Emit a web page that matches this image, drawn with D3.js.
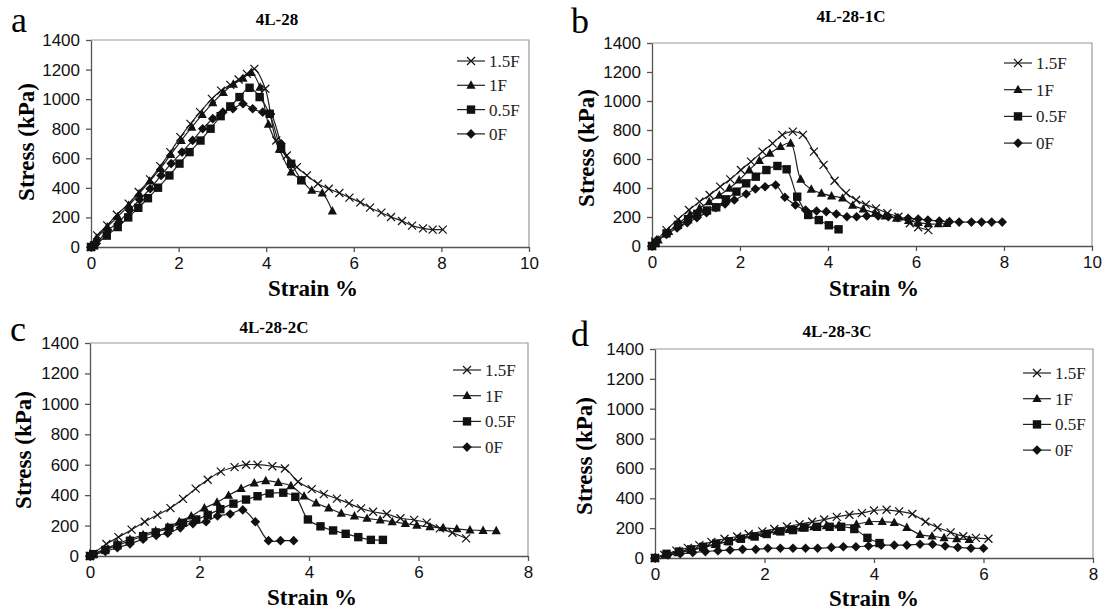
<!DOCTYPE html>
<html>
<head>
<meta charset="utf-8">
<script src="https://cdn.jsdelivr.net/npm/d3@7"></script>
<style>
  body { margin: 0; background: #fff; }
</style>
</head>
<body>
<div id="chart"></div>
<script>
// series names, in legend order
var seriesNames = ["1.5F", "1F", "0.5F", "0F"];
var markerTypes = ["x", "triangle", "square", "diamond"];

// axis ticks
var yTicks = [0, 200, 400, 600, 800, 1000, 1200, 1400];
var xTicks10 = [0, 2, 4, 6, 8, 10];
var xTicks8 = [0, 2, 4, 6, 8];

// panel titles
var titles = ["4L-28", "4L-28-1C", "4L-28-2C", "4L-28-3C"];
var letters = ["a", "b", "c", "d"];

// panel a : [strain %, stress kPa]
var a15F = [[0,0],[0.14,79],[0.37,146],[0.59,218],[0.86,293],[1.09,372],[1.35,457],[1.58,547],[1.81,642],[2.04,743],[2.27,833],[2.49,912],[2.76,1002],[2.97,1058],[3.18,1097],[3.37,1133],[3.56,1171],[3.73,1205],[3.98,1070],[4.23,720],[4.47,619],[4.70,540],[4.93,484],[5.18,428],[5.43,394],[5.67,365],[5.90,334],[6.15,302],[6.37,266],[6.63,232],[6.85,203],[7.10,176],[7.33,145],[7.58,126],[7.80,118],[8.03,118]];
var a1F = [[0,0],[0.13,60],[0.37,135],[0.61,205],[0.86,280],[1.10,360],[1.34,445],[1.58,530],[1.82,625],[2.06,720],[2.30,810],[2.54,895],[2.78,975],[3.02,1045],[3.25,1100],[3.47,1140],[3.66,1180],[3.86,1080],[4.05,830],[4.30,660],[4.57,507],[4.81,451],[5.04,383],[5.28,365],[5.51,243]];
var a05F = [[0,0],[0.07,11],[0.36,77],[0.61,135],[0.85,200],[1.08,265],[1.30,330],[1.53,401],[1.79,484],[2.02,564],[2.25,642],[2.50,720],[2.73,800],[2.96,885],[3.18,951],[3.39,1014],[3.62,1077],[3.85,1014],[4.08,901],[4.34,665],[4.57,563],[4.80,451]];
var a0F = [[0,0],[0.12,23],[0.38,113],[0.64,169],[0.88,248],[1.11,320],[1.35,394],[1.60,484],[1.83,564],[2.08,642],[2.32,721],[2.55,800],[2.78,868],[3.01,912],[3.24,935],[3.47,969],[3.69,935],[3.92,912],[4.10,900],[4.34,699],[4.57,560]];

// panel b
var b15F = [[0,0],[0.07,30],[0.33,110],[0.59,184],[0.84,248],[1.08,306],[1.31,352],[1.55,409],[1.78,460],[2.02,524],[2.25,582],[2.51,651],[2.74,708],[2.96,766],[3.20,789],[3.43,766],[3.68,651],[3.90,560],[4.15,450],[4.41,365],[4.64,317],[4.86,285],[5.09,260],[5.35,226],[5.60,202],[5.86,157],[6.05,129],[6.28,110]];
var b1F = [[0,0],[0.14,41],[0.38,100],[0.62,160],[0.86,215],[1.08,260],[1.30,305],[1.53,350],[1.76,398],[1.98,455],[2.21,524],[2.44,589],[2.68,639],[2.92,685],[3.15,708],[3.38,460],[3.62,391],[3.85,363],[4.08,345],[4.33,330],[4.56,280],[4.80,255],[5.07,226],[5.30,207],[5.56,191],[5.83,175],[6.05,161],[6.28,152],[6.51,152],[6.70,155]];
var b05F = [[0,0],[0.08,20],[0.33,87],[0.59,145],[0.82,185],[1.03,222],[1.25,245],[1.46,267],[1.68,322],[1.92,375],[2.14,432],[2.36,478],[2.60,524],[2.85,552],[3.06,529],[3.30,340],[3.55,214],[3.79,179],[4.02,143],[4.24,115]];
var b0F = [[0,0],[0.11,41],[0.33,80],[0.57,125],[0.80,160],[1.02,195],[1.24,230],[1.45,265],[1.66,290],[1.87,317],[2.14,359],[2.35,393],[2.57,409],[2.81,421],[3.02,336],[3.26,283],[3.49,248],[3.74,241],[3.96,237],[4.19,221],[4.43,202],[4.65,202],[4.88,207],[5.14,207],[5.37,202],[5.59,195],[5.82,191],[6.05,186],[6.27,179],[6.53,172],[6.76,168],[6.98,165],[7.26,165],[7.49,165],[7.72,165],[7.96,165]];

// panel c
var c15F = [[0,0],[0.06,16],[0.30,79],[0.52,124],[0.76,173],[1.00,225],[1.23,270],[1.47,315],[1.70,375],[1.93,443],[2.15,501],[2.39,555],[2.64,584],[2.85,600],[3.06,600],[3.33,590],[3.56,575],[3.80,488],[4.05,440],[4.27,407],[4.51,377],[4.73,346],[4.95,313],[5.17,291],[5.42,276],[5.67,248],[5.92,237],[6.15,219],[6.39,182],[6.62,153],[6.87,116]];
var c1F = [[0,0],[0.06,10],[0.27,45],[0.50,80],[0.73,110],[0.97,140],[1.20,165],[1.42,190],[1.63,225],[1.85,263],[2.09,315],[2.32,353],[2.53,398],[2.76,443],[3.00,479],[3.21,494],[3.44,483],[3.67,461],[3.91,393],[4.13,348],[4.36,315],[4.59,281],[4.83,263],[5.06,247],[5.30,236],[5.52,225],[5.76,213],[5.97,202],[6.21,191],[6.45,185],[6.70,178],[6.94,171],[7.18,167],[7.42,166]];
var c05F = [[0,0],[0.06,12],[0.28,40],[0.50,70],[0.73,100],[0.97,130],[1.20,155],[1.45,185],[1.70,218],[1.94,240],[2.15,270],[2.38,308],[2.62,344],[2.85,371],[3.06,393],[3.28,411],[3.53,416],[3.75,389],[3.98,240],[4.21,195],[4.44,168],[4.67,146],[4.90,124],[5.13,106],[5.35,106]];
var c0F = [[0,0],[0.06,8],[0.28,30],[0.50,55],[0.73,80],[0.97,110],[1.21,135],[1.42,150],[1.65,185],[1.88,213],[2.12,225],[2.33,263],[2.56,276],[2.79,303],[3.02,225],[3.26,101],[3.48,101],[3.72,101]];

// panel d
var d15F = [[0,0],[0.17,20],[0.39,49],[0.60,68],[0.81,86],[1.03,108],[1.27,129],[1.50,144],[1.71,161],[1.96,178],[2.18,194],[2.41,211],[2.64,226],[2.87,243],[3.09,258],[3.32,275],[3.55,290],[3.78,301],[4.00,318],[4.23,323],[4.46,312],[4.70,295],[4.94,243],[5.16,204],[5.40,172],[5.63,146],[5.86,135],[6.09,129]];
var d1F = [[0,0],[0.20,20],[0.42,35],[0.65,50],[0.88,70],[1.10,90],[1.33,110],[1.55,130],[1.78,148],[2.00,163],[2.23,178],[2.45,190],[2.68,200],[2.90,208],[3.13,215],[3.36,220],[3.68,226],[3.91,243],[4.15,243],[4.37,237],[4.60,204],[4.84,157],[5.06,146],[5.28,135],[5.51,129],[5.74,123]];
var d05F = [[0,0],[0.21,28],[0.44,43],[0.66,58],[0.88,75],[1.12,97],[1.35,112],[1.57,129],[1.82,144],[2.04,161],[2.29,178],[2.52,187],[2.73,204],[2.96,209],[3.19,209],[3.40,209],[3.64,194],[3.88,135],[4.10,100]];
var d0F = [[0,0],[0.24,22],[0.46,28],[0.69,37],[0.92,43],[1.15,49],[1.37,54],[1.60,58],[1.84,58],[2.06,65],[2.29,65],[2.52,65],[2.75,65],[2.97,65],[3.22,71],[3.44,75],[3.67,75],[3.90,80],[4.13,86],[4.37,86],[4.60,86],[4.84,92],[5.07,92],[5.30,80],[5.53,71],[5.77,65],[6.00,65]];

// layout of each panel (pixel boxes and text anchors)
var panels = [
  {series: [a15F, a1F, a05F, a0F], xTicks: xTicks10, left: 91, top: 40, right: 529, bottom: 247,
   titleX: 277, titleY: 25, letterX: 11, letterY: 32, yLabX: 34, yLabY: 142, xLabX: 313, xLabY: 296,
   legX: 457, legY: 61, legDy: 24.3},
  {series: [b15F, b1F, b05F, b0F], xTicks: xTicks10, left: 652, top: 43, right: 1092, bottom: 246,
   titleX: 851, titleY: 22, letterX: 571, letterY: 33, yLabX: 594, yLabY: 148, xLabX: 874, xLabY: 296,
   legX: 1004, legY: 63, legDy: 26.7},
  {series: [c15F, c1F, c05F, c0F], xTicks: xTicks8, left: 90, top: 343, right: 528, bottom: 556,
   titleX: 274, titleY: 333, letterX: 10, letterY: 341, yLabX: 31, yLabY: 450, xLabX: 312, xLabY: 605,
   legX: 453, legY: 370, legDy: 25.7},
  {series: [d15F, d1F, d05F, d0F], xTicks: xTicks8, left: 655, top: 349, right: 1093, bottom: 558,
   titleX: 837, titleY: 337, letterX: 571, letterY: 346, yLabX: 592, yLabY: 456, xLabX: 874, xLabY: 606,
   legX: 1023, legY: 373, legDy: 25.7}
];

var width = 1105, height = 611;
var serif = "'Liberation Serif', 'Times New Roman', serif";
var sans = "'Liberation Sans', Arial, sans-serif";

var svg = d3.select("#chart")
  .append("svg")
    .attr("width", width)
    .attr("height", height);

// marker shapes, centred on 0,0
function markerPath(type) {
  if (type == "x") return "M-4,-4L4,4M-4,4L4,-4";
  if (type == "triangle") return "M0,-5L4.6,3.4L-4.6,3.4Z";
  if (type == "square") return "M-4.2,-4.2L4.2,-4.2L4.2,4.2L-4.2,4.2Z";
  return "M0,-4.8L4.8,0L0,4.8L-4.8,0Z";
}

function drawMarker(g, type, x, y) {
  var m = g.append("path")
    .attr("d", markerPath(type))
    .attr("transform", "translate(" + x + "," + y + ")");
  if (type == "x") {
    m.style("fill", "none").style("stroke", "#111").style("stroke-width", 1.2);
  } else {
    m.style("fill", "#111").style("stroke", "none");
  }
}

panels.forEach(function(p, k) {

  var x = d3.scaleLinear()
    .domain([0, p.xTicks[p.xTicks.length - 1]])
    .range([p.left, p.right]);
  var y = d3.scaleLinear()
    .domain([0, 1400])
    .range([p.bottom, p.top]);

  var g = svg.append("g");

  // plot area frame (top and right)
  g.append("path")
    .attr("d", "M" + p.left + "," + p.top + "H" + p.right + "V" + p.bottom)
    .style("fill", "none")
    .style("stroke", "#9a9a9a")
    .style("stroke-width", 1.2);

  // axes
  var xAxis = g.append("g")
    .attr("transform", "translate(0," + p.bottom + ")")
    .call(d3.axisBottom(x).tickValues(p.xTicks).tickFormat(d3.format("d"))
      .tickSize(5).tickSizeOuter(0).tickPadding(5));
  var yAxis = g.append("g")
    .attr("transform", "translate(" + p.left + ",0)")
    .call(d3.axisLeft(y).tickValues(yTicks).tickFormat(d3.format("d"))
      .tickSize(5).tickSizeOuter(0).tickPadding(6));

  [xAxis, yAxis].forEach(function(ax) {
    ax.select(".domain").style("stroke", "#555").style("stroke-width", 1.3);
    ax.selectAll(".tick line").style("stroke", "#555").style("stroke-width", 1.3);
    ax.selectAll(".tick text")
      .style("font-family", sans)
      .style("font-size", "17px")
      .style("fill", "#111");
  });

  // the lines, smoothed like the spreadsheet
  var line = d3.line()
    .x(function(d) { return x(d[0]); })
    .y(function(d) { return y(d[1]); })
    .curve(d3.curveCatmullRom.alpha(0.5));

  p.series.forEach(function(s, i) {
    g.append("path")
      .datum(s)
      .attr("d", line)
      .style("fill", "none")
      .style("stroke", "#222")
      .style("stroke-width", 1.2);
  });
  p.series.forEach(function(s, i) {
    s.forEach(function(d) {
      drawMarker(g, markerTypes[i], x(d[0]), y(d[1]));
    });
  });

  // legend
  seriesNames.forEach(function(name, i) {
    var ly = p.legY + i * p.legDy;
    g.append("line")
      .attr("x1", p.legX).attr("x2", p.legX + 28)
      .attr("y1", ly).attr("y2", ly)
      .style("stroke", "#222")
      .style("stroke-width", 1.2);
    drawMarker(g, markerTypes[i], p.legX + 14, ly);
    g.append("text")
      .attr("x", p.legX + 32)
      .attr("y", ly + 6)
      .text(name)
      .style("font-family", serif)
      .style("font-size", "17px")
      .style("fill", "#222");
  });

  // title
  g.append("text")
    .attr("x", p.titleX)
    .attr("y", p.titleY)
    .attr("text-anchor", "middle")
    .text(titles[k])
    .style("font-family", serif)
    .style("font-weight", "bold")
    .style("font-size", "17px");

  // panel letter
  g.append("text")
    .attr("x", p.letterX)
    .attr("y", p.letterY)
    .text(letters[k])
    .style("font-family", serif)
    .style("font-size", "36px");

  // axis titles
  g.append("text")
    .attr("transform", "translate(" + p.yLabX + "," + p.yLabY + ") rotate(-90)")
    .attr("text-anchor", "middle")
    .text("Stress (kPa)")
    .style("font-family", serif)
    .style("font-weight", "bold")
    .style("font-size", "23px");

  g.append("text")
    .attr("x", p.xLabX)
    .attr("y", p.xLabY)
    .attr("text-anchor", "middle")
    .text("Strain %")
    .style("font-family", serif)
    .style("font-weight", "bold")
    .style("font-size", "23px");
});
</script>
</body>
</html>
